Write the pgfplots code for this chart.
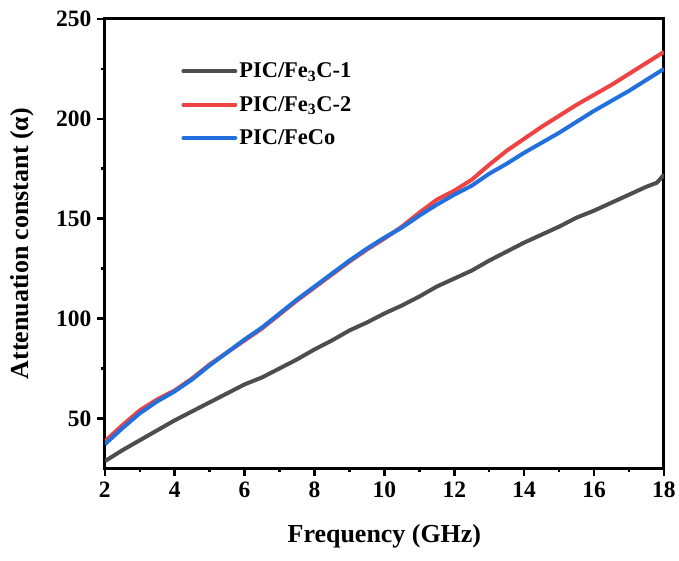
\documentclass[border=0pt]{standalone}
\usepackage{fontspec}
\setmainfont{Liberation Serif}
\usepackage{pgfplots}
\pgfplotsset{compat=1.18}
\definecolor{cBlack}{HTML}{4D4D4D}
\definecolor{cRed}{HTML}{EF4242}
\definecolor{cBlue}{HTML}{2170DE}

\pgfplotstableread{
x y
2 28.5
2.5 34
3 39
3.5 44
4 49
4.5 53.5
5 58
5.5 62.5
6 67
6.5 70.5
7 75
7.5 79.5
8 84.5
8.5 89
9 94
9.5 98
10 102.5
10.5 106.5
11 111
11.5 116
12 120
12.5 124
13 129
13.5 133.5
14 138
14.5 142
15 146
15.5 150.5
16 154
16.5 158
17 162
17.5 166
17.8 168
18 172
}\tblA

\pgfplotstableread{
x y
2 38.5
2.5 46.5
3 54
3.5 59.5
4 64
4.5 70
5 77
5.5 83
6 89
6.5 95
7 102
7.5 109
8 115.5
8.5 122
9 128.5
9.5 134.5
10 140
10.5 146
11 153
11.5 159.5
12 164
12.5 169.5
13 177
13.5 184
14 190
14.5 196
15 201.5
15.5 207
16 212
16.5 217
17 222.5
17.5 228
18 233.5
}\tblB

\pgfplotstableread{
x y
2 37
2.5 45
3 52.5
3.5 58.5
4 63.5
4.5 69.5
5 76.5
5.5 83
6 89.5
6.5 95.5
7 102.5
7.5 109.5
8 116
8.5 122.5
9 129
9.5 135
10 140.5
10.5 145.5
11 151.5
11.5 157
12 162
12.5 166.5
13 172.5
13.5 177.5
14 183
14.5 188
15 193
15.5 198.5
16 204
16.5 209
17 214
17.5 219.5
18 225
}\tblC

\begin{document}
\begin{tikzpicture}
\begin{axis}[
    name=ax,
    scale only axis,
    width=560pt,
    height=450pt,
    xmin=2, xmax=18,
    ymin=25, ymax=250,
    xtick={2,4,...,18},
    ytick={50,100,...,250},
    minor xtick={3,5,...,17},
    minor ytick={75,125,...,225},
    tick pos=left,
    tick align=outside,
    major tick length=8pt,
    minor tick length=4pt,
    every tick/.style={line width=2.5pt, black},
    axis line style={line width=3pt},
    /pgf/number format/assume math mode=true,
    ticklabel style={font=\bfseries\fontsize{23.5}{25}\selectfont},
    xticklabel style={yshift=-2pt},
    yticklabel style={xshift=-2pt},
    label style={font=\bfseries\fontsize{26}{28}\selectfont},
    xlabel={Frequency (GHz)},
    ylabel={Attenuation constant (α)},
    xlabel style={at={(axis description cs:0.5,-0.151)}, anchor=center},
    ylabel style={at={(axis description cs:-0.148,0.5)}, anchor=center},
    legend style={draw=none, fill=none, at={(axis cs:4.1,230)}, anchor=north west,
        font=\bfseries\fontsize{22.5}{24}\selectfont, row sep=13pt},
    legend cell align=left,
    legend image code/.code={\draw[#1, line width=4pt, line cap=round] (0pt,0pt) -- (52pt,0pt);},
    every axis plot/.append style={line width=4pt, line join=round},
]
\addplot[cBlack] table {\tblA};
\addlegendentry{PIC/Fe\textsubscript{3}C-1}
\addplot[cRed] table {\tblB};
\addlegendentry{PIC/Fe\textsubscript{3}C-2}
\addplot[cBlue] table {\tblC};
\addlegendentry{PIC/FeCo}
\end{axis}
% page margins as in the reference
\path (ax.south west) ++(-105pt,-92pt) coordinate (bbA);
\path (ax.north east) ++(14pt,19pt) coordinate (bbB);
\path (bbA) rectangle (bbB);
\end{tikzpicture}
\end{document}
